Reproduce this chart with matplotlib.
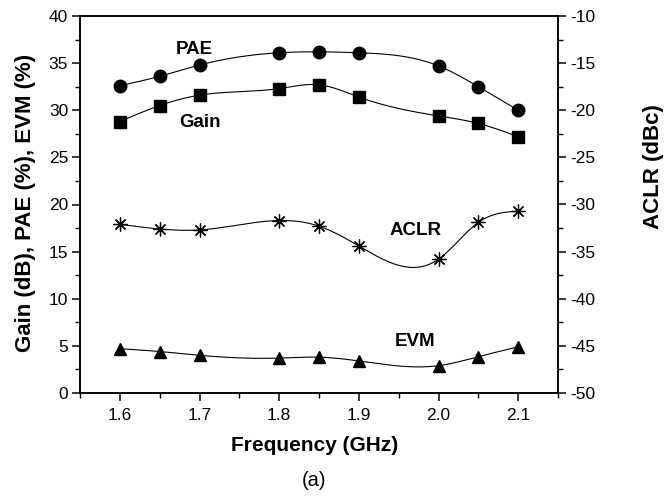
import numpy as np
import matplotlib
matplotlib.use("Agg")
import matplotlib.pyplot as plt
from matplotlib.ticker import MultipleLocator

plt.rcParams['font.family'] = ['Liberation Sans', 'DejaVu Sans']
plt.rcParams['axes.unicode_minus'] = False

freq = [1.6, 1.65, 1.7, 1.8, 1.85, 1.9, 2.0, 2.05, 2.1]
pae = [32.6, 33.6, 34.8, 36.1, 36.2, 36.1, 34.7, 32.5, 30.0]
gain = [28.8, 30.5, 31.6, 32.3, 32.7, 31.4, 29.4, 28.6, 27.2]
aclr = [-32.1, -32.6, -32.7, -31.7, -32.3, -34.4, -35.8, -31.9, -30.7]
evm = [4.7, 4.4, 4.0, 3.7, 3.8, 3.4, 2.9, 3.85, 4.9]

x_ticks = [1.6, 1.7, 1.8, 1.9, 2.0, 2.1]
x_tick_labels = ["1.6", "1.7", "1.8", "1.9", "2.0", "2.1"]


def natural_spline(x, y, n=300):
    x = np.asarray(x, float)
    y = np.asarray(y, float)
    m = len(x)
    h = np.diff(x)
    A = np.zeros((m, m))
    b = np.zeros(m)
    A[0, 0] = 1
    A[-1, -1] = 1
    for i in range(1, m - 1):
        A[i, i - 1] = h[i - 1]
        A[i, i] = 2 * (h[i - 1] + h[i])
        A[i, i + 1] = h[i]
        b[i] = 3 * ((y[i + 1] - y[i]) / h[i] - (y[i] - y[i - 1]) / h[i - 1])
    c = np.linalg.solve(A, b)
    xs = np.linspace(x[0], x[-1], n)
    ys = np.empty_like(xs)
    for k, xv in enumerate(xs):
        i = min(np.searchsorted(x, xv, side='right') - 1, m - 2)
        dx = xv - x[i]
        bb = (y[i + 1] - y[i]) / h[i] - h[i] * (2 * c[i] + c[i + 1]) / 3
        d = (c[i + 1] - c[i]) / (3 * h[i])
        ys[k] = y[i] + bb * dx + c[i] * dx ** 2 + d * dx ** 3
    return xs, ys


fig = plt.figure(figsize=(6.69, 4.97), dpi=100)
ax = fig.add_axes([80 / 669, 104 / 497, 478 / 669, 377 / 497])
ax2 = ax.twinx()

lw = 0.8
for ydat, mk, ms in [(pae, 'o', 9), (gain, 's', 8), (evm, '^', 9)]:
    xs, ys = natural_spline(freq, ydat)
    ax.plot(xs, ys, color='black', lw=lw, zorder=2)
    ax.plot(freq, ydat, linestyle='none', marker=mk, ms=ms, color='black', zorder=3)

xs, ys = natural_spline(freq, aclr)
ax2.plot(xs, ys, color='black', lw=lw, zorder=2)
ax2.plot(freq, aclr, linestyle='none', marker=(8, 2, 0), ms=10, color='black',
         mew=0.9, zorder=3)

ax.set_xlim(1.55, 2.15)
ax.set_ylim(0, 40)
ax2.set_ylim(-50, -10)
ax.set_xticks(x_ticks)
ax.set_xticklabels(x_tick_labels)
ax.xaxis.set_minor_locator(MultipleLocator(0.05))
ax.yaxis.set_major_locator(MultipleLocator(5))
ax.yaxis.set_minor_locator(MultipleLocator(2.5))
ax2.yaxis.set_major_locator(MultipleLocator(5))
ax2.yaxis.set_minor_locator(MultipleLocator(2.5))

for a in (ax, ax2):
    a.tick_params(which='major', direction='out', length=6, width=1.1, labelsize=12.5, pad=2.5)
    a.tick_params(which='minor', direction='out', length=3.5, width=1.0)
    for s in a.spines.values():
        s.set_linewidth(1.1)
ax.tick_params(axis='x', which='both', top=False)
ax.tick_params(axis='x', which='major', pad=5)

ax.set_xlabel("Frequency (GHz)", fontsize=15, fontweight='bold')
ax.xaxis.set_label_coords(0.49, -0.115)
ax.set_ylabel("Gain (dB), PAE (%), EVM (%)", fontsize=16, fontweight='bold')
ax.yaxis.set_label_coords(-0.093, 0.505)
ax2.set_ylabel("ACLR (dBc)", fontsize=16, fontweight='bold')
ax2.yaxis.set_label_coords(1.178, 0.6)

ax.text(1.694, 36.4, "PAE", fontsize=13.5, fontweight='bold', ha='center', va='center')
ax.text(1.701, 28.7, "Gain", fontsize=13.5, fontweight='bold', ha='center', va='center')
ax.text(1.971, 17.2, "ACLR", fontsize=13.5, fontweight='bold', ha='center', va='center')
ax.text(1.971, 5.45, "EVM", fontsize=13.5, fontweight='bold', ha='center', va='center')

fig.text(314 / 669, 1 - 480 / 497, "(a)", fontsize=14.5, ha='center', va='center')

fig.savefig("out.png", dpi=100)
